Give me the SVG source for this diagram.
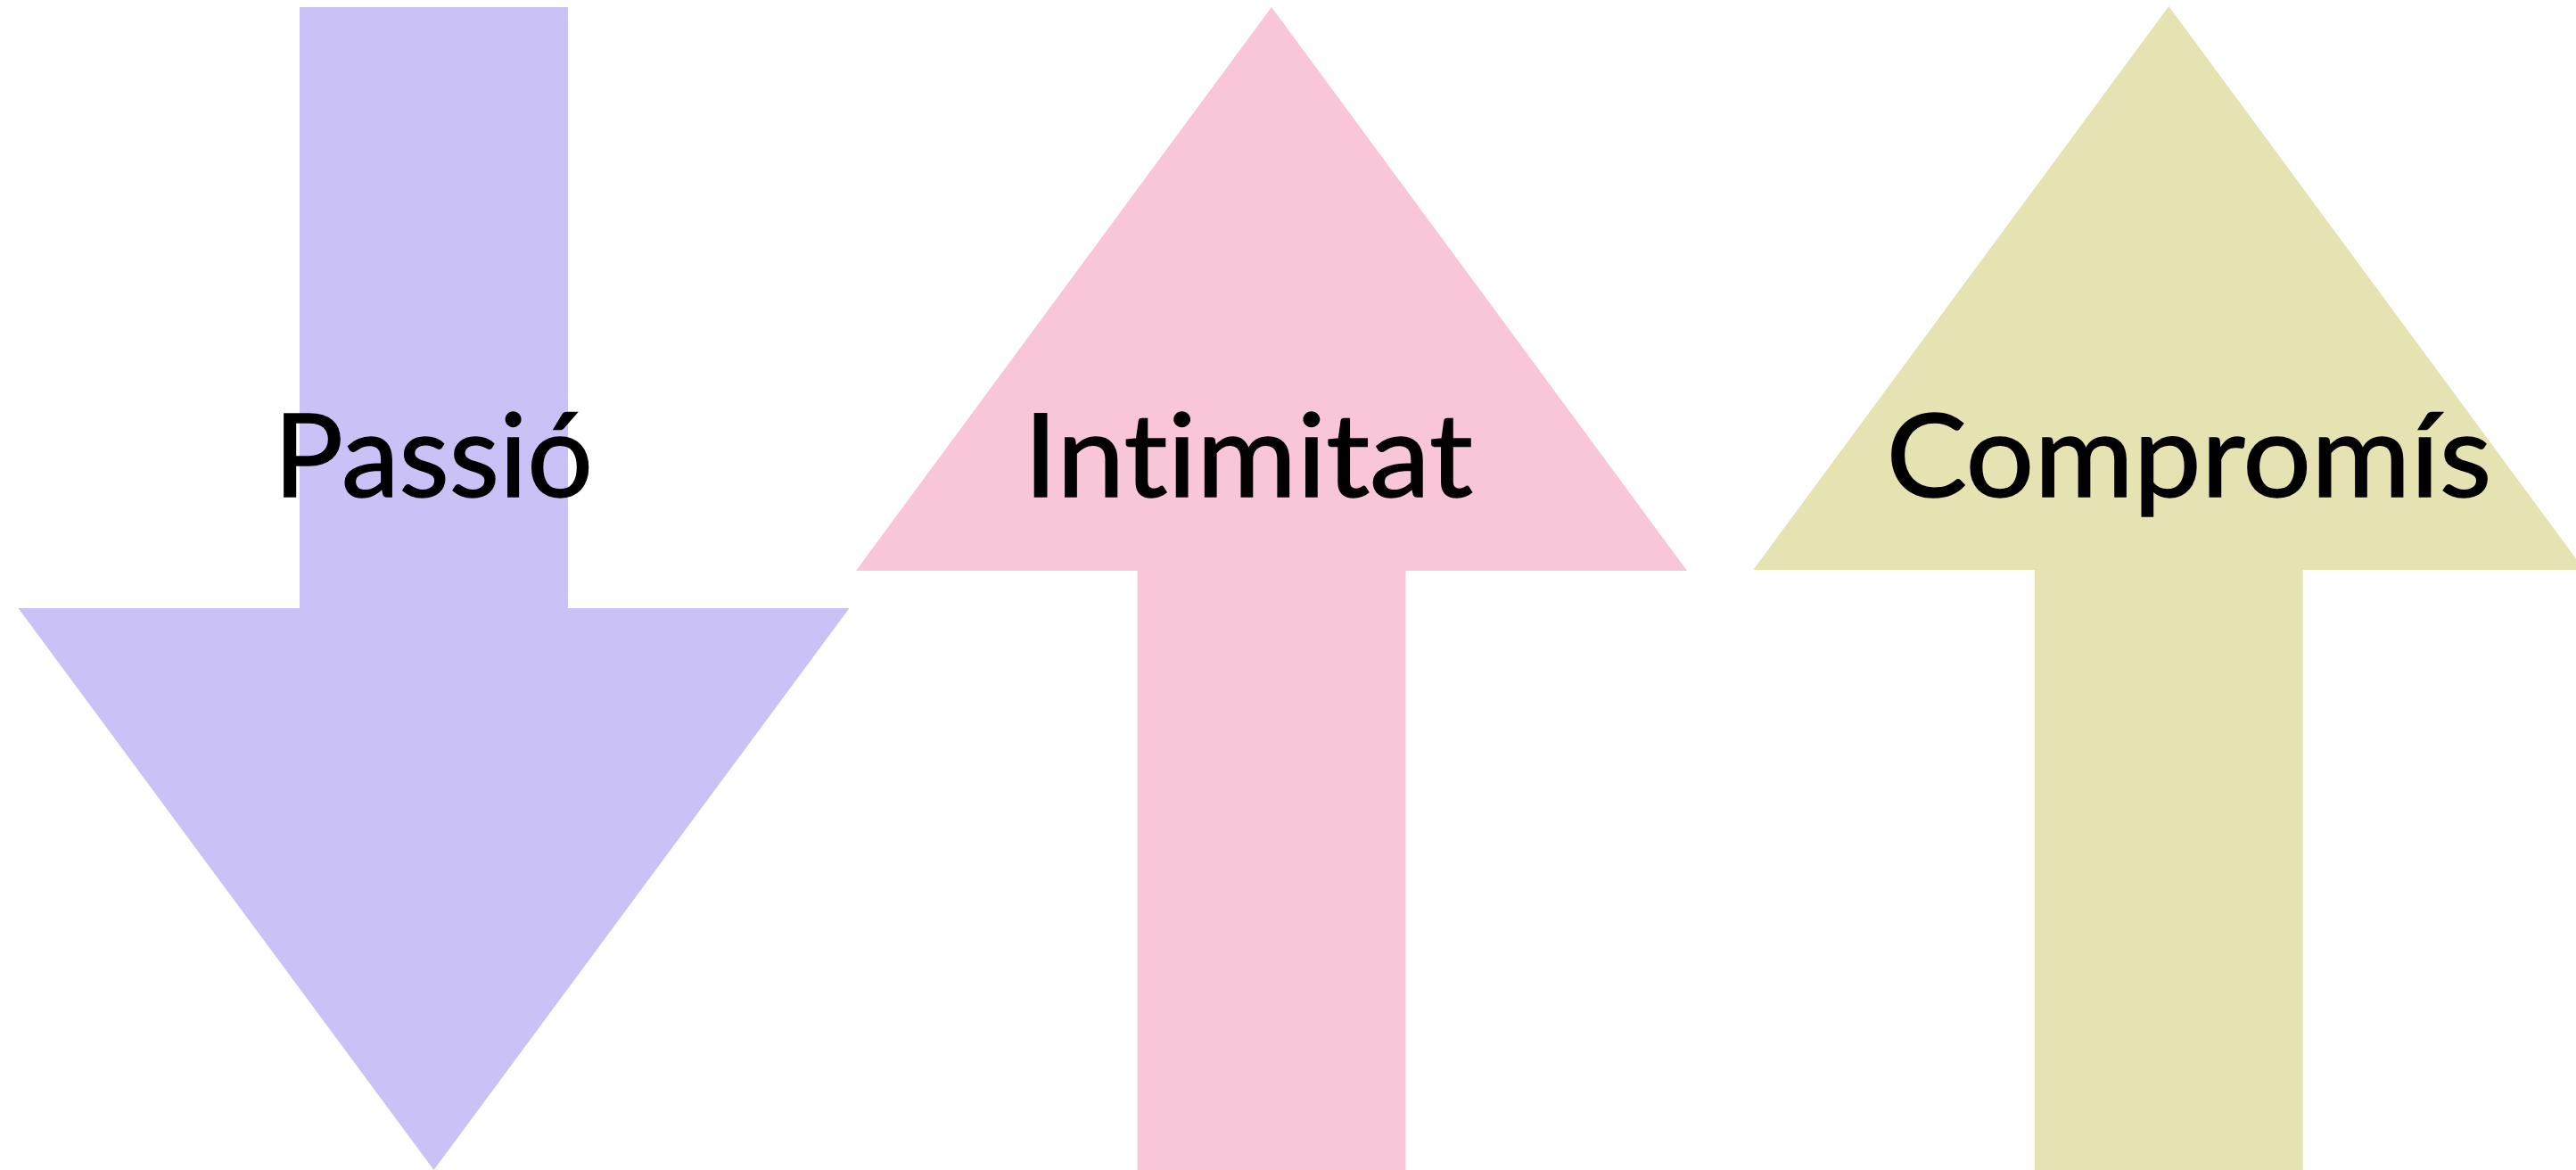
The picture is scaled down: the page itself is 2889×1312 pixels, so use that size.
<svg xmlns="http://www.w3.org/2000/svg" width="2889" height="1312" viewBox="0 0 2889 1312">
<style>
.lbl{font-family:Lato,"Open Sans","Liberation Sans",sans-serif;font-size:130px;fill:#000;text-anchor:middle;font-variant-ligatures:none;font-feature-settings:"liga" 0,"clig" 0;stroke:#000;stroke-width:1.5px}
</style>
<rect width="2889" height="1312" fill="#fff"/>
<g id="passio">
<polygon points="336,8 637,8 637,682 952.5,682 486.5,1312 20.5,682 336,682" fill="#CAC2F7"/>
<text class="lbl" x="486" y="557" textLength="358" lengthAdjust="spacingAndGlyphs">Passió</text>
</g>
<g id="intimitat">
<polygon points="1426,8 1892,640 1576.5,640 1576.5,1312 1275.5,1312 1275.5,640 960,640" fill="#F9C5D9"/>
<text class="lbl" x="1400" y="557" textLength="504" lengthAdjust="spacingAndGlyphs">Intimitat</text>
</g>
<g id="compromis">
<polygon points="2432.3,7 2898.3,639 2582.7,639 2582.7,1312 2282,1312 2282,639 1966.3,639" fill="#E5E3B2"/>
<text class="lbl" x="2455" y="557" textLength="679" lengthAdjust="spacingAndGlyphs">Compromís</text>
</g>
<g id="connectors"></g>
</svg>
